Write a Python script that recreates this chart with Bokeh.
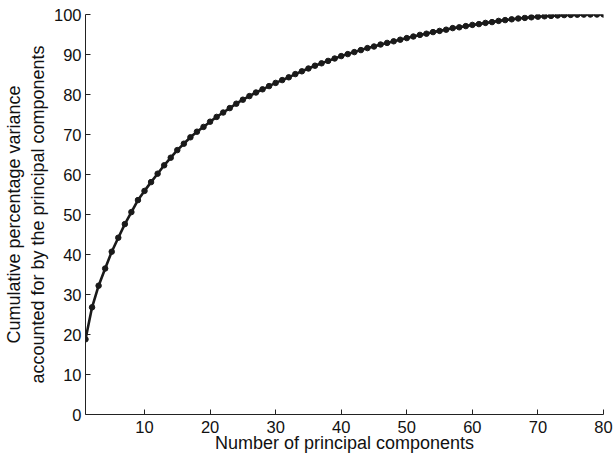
from bokeh.plotting import figure
from bokeh.models import Range1d, FixedTicker
from bokeh.embed import file_html
from bokeh.resources import INLINE

components = list(range(1, 81))
cumulative_variance = [
    18.8, 26.8, 32.2, 36.5, 40.7, 44.2, 47.6, 50.6, 53.6, 55.9,
    58.1, 60.2, 62.3, 64.2, 66.1, 67.7, 69.3, 70.7, 71.9, 73.2,
    74.4, 75.5, 76.6, 77.7, 78.7, 79.6, 80.5, 81.3, 82.1, 82.9,
    83.6, 84.3, 85.1, 85.8, 86.5, 87.2, 87.8, 88.4, 89.0, 89.6,
    90.1, 90.6, 91.1, 91.6, 92.0, 92.5, 92.9, 93.3, 93.7, 94.1,
    94.5, 94.9, 95.2, 95.6, 95.9, 96.2, 96.6, 96.8, 97.1, 97.4,
    97.6, 97.9, 98.1, 98.4, 98.6, 98.8, 99.0, 99.15, 99.3, 99.45,
    99.55, 99.65, 99.75, 99.85, 99.9, 99.95, 99.97, 99.99, 100.0, 100.0,
]
x_ticks = [10, 20, 30, 40, 50, 60, 70, 80]
y_ticks = [0, 10, 20, 30, 40, 50, 60, 70, 80, 90, 100]

FONT = "Liberation Sans"

p = figure(width=613, height=457, output_backend="svg", toolbar_location=None,
           x_range=Range1d(1, 80), y_range=Range1d(0, 100),
           min_border_left=85, min_border_right=10, min_border_top=14, min_border_bottom=43)
p.outline_line_color = None
p.grid.visible = False
p.background_fill_color = "white"
p.border_fill_color = "white"

p.line(components, cumulative_variance, line_color="#1a1a1a", line_width=2.6)
p.scatter(components, cumulative_variance, size=5.5, fill_color="#1a1a1a", line_color="#1a1a1a")

for ax in (p.xaxis[0], p.yaxis[0]):
    ax.major_tick_in = 5
    ax.major_tick_out = 0
    ax.minor_tick_line_color = None
    ax.axis_line_color = "#222222"
    ax.major_tick_line_color = "#222222"
    ax.major_label_text_font = FONT
    ax.major_label_text_font_size = "16.5px"
    ax.major_label_text_color = "#111111"
    ax.axis_label_text_font = FONT
    ax.axis_label_text_font_size = "18px"
    ax.axis_label_text_font_style = "normal"
    ax.axis_label_text_color = "#111111"

p.xaxis.ticker = FixedTicker(ticks=x_ticks)
p.yaxis.ticker = FixedTicker(ticks=y_ticks)
p.xaxis.major_label_standoff = 6
p.yaxis.major_label_standoff = 4
p.xaxis.axis_label = "Number of principal components"
p.xaxis.axis_label_standoff = -3
p.yaxis.axis_label = "Cumulative percentage variance\naccounted for by the principal components"
p.yaxis.axis_label_standoff = 3

open("out.html", "w").write(file_html(p, INLINE))
